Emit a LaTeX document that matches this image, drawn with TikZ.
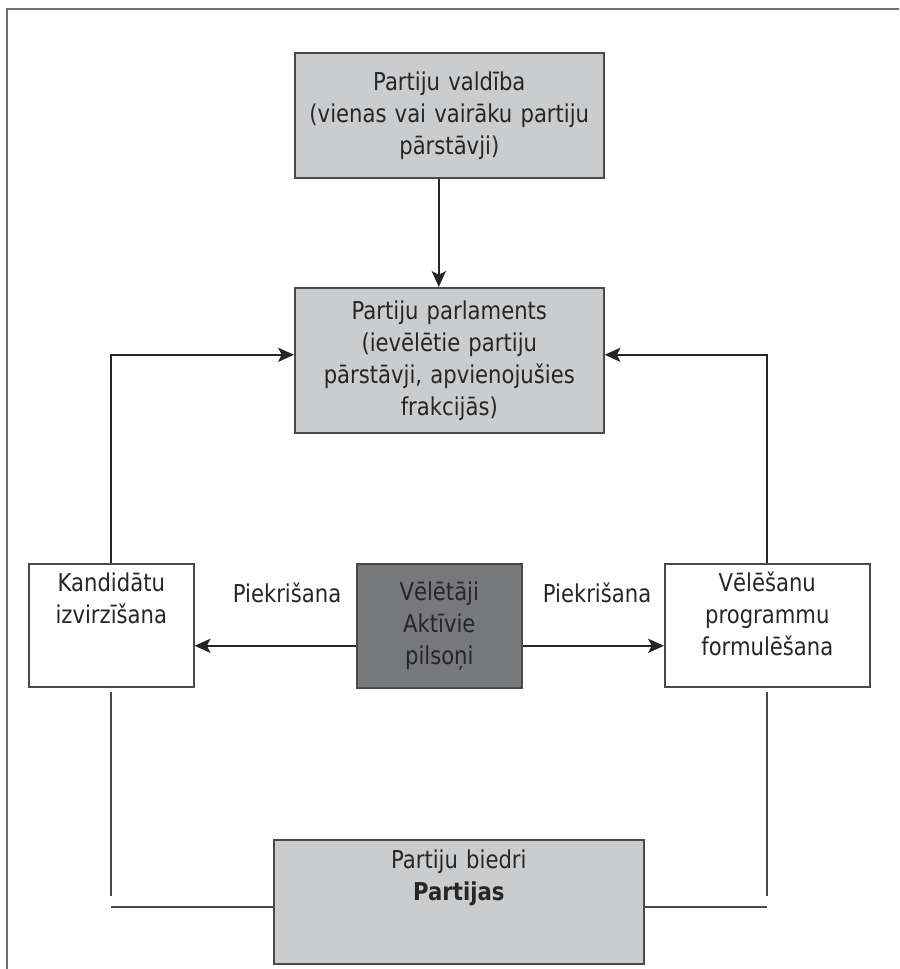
\documentclass[tikz,border=0pt]{standalone}
\usepackage{fontspec}
\setmainfont{DejaVu Sans}[FakeStretch=0.86]
\usepackage{xcolor}
\usetikzlibrary{arrows.meta,positioning,calc}
\definecolor{cInk}{HTML}{262626}
\definecolor{cEdge}{HTML}{4A4A4A}
\definecolor{cFill}{HTML}{CBCCCE}
\definecolor{cDark}{HTML}{77787B}
\definecolor{cFrame}{HTML}{6E6E6E}
\tikzset{
  pbox/.style={draw=cEdge,fill=#1,line width=0.9pt,align=center,text=cInk,anchor=north west,
    inner xsep=0pt,inner ysep=0.1cm,font=\fontsize{14}{18.2}\selectfont},
  pbox/.default=cFill,
  % mbox: text centred in the box
  mbox/.style={pbox=#1,minimum height=2.5cm},
  % tbox: fixed text height+depth = box of 2.46 cm with the text at the top
  tbox/.style={pbox=#1,text height=0.46cm,text depth=1.80cm},
  arr/.style={-{Stealth[length=9pt,width=8pt,inset=2pt]},line width=1.3pt,color=cInk},
  ln/.style={line width=1pt,color=cEdge},
  lbl/.style={font=\fontsize{14}{18.2}\selectfont,text=cInk,inner sep=1pt},
}
\begin{document}
\begin{tikzpicture}[x=1cm,y=1cm]
    \useasboundingbox (0,0) rectangle (17.98,-19.38);
    % frame (top and left only)
    \draw[cFrame,line width=1.1pt] (0.14,-19.38) -- (0.14,-0.18) -- (17.98,-0.18);
    % boxes
    \node[mbox,minimum width=6.18cm,text width=6.18cm] (valdiba) at (5.88,-1.04)
      {Partiju valdība\\(vienas vai vairāku partiju\\pārstāvji)};
    \node[mbox,minimum width=6.18cm,text width=6.18cm,minimum height=2.9cm] (parlaments) at (5.88,-5.74)
      {Partiju parlaments\\(ievēlētie partiju\\pārstāvji, apvienojušies\\frakcijās)};
    \node[tbox=white,text width=3.3cm] (kand) at (0.56,-11.26) {Kandidātu\\izvirzīšana};
    \node[mbox=cDark,text width=3.3cm,minimum height=2.48cm] (velet) at (7.12,-11.26) {Vēlētāji\\Aktīvie\\pilsoņi};
    \node[tbox=white,text width=4.1cm] (progr) at (13.28,-11.26) {Vēlēšanu\\programmu\\formulēšana};
    \node[tbox,text width=7.4cm,text height=0.48cm] (partijas) at (5.46,-16.78) {Partiju biedri\\\textbf{Partijas}};
    % labels
    \node[lbl] (piekr1) at (5.74,-11.86) {Piekrišana};
    \node[lbl] (piekr2) at (11.94,-11.86) {Piekrišana};
    % arrows
    \draw[arr] ([xshift=-0.21cm]valdiba.south) -- ([xshift=-0.21cm]parlaments.north);
    \draw[arr] (kand.north) |- ([yshift=0.11cm]parlaments.west);
    \draw[arr] (progr.north) |- ([yshift=0.11cm]parlaments.east);
    \draw[arr] ([yshift=-0.4cm]velet.west) -- ([yshift=-0.4cm]velet.west -| kand.east);
    \draw[arr] ([yshift=-0.4cm]velet.east) -- ([yshift=-0.4cm]velet.east -| progr.west);
    % lines down to the members
    \draw[ln] ([yshift=-0.08cm]kand.south) -- ++(0,-4.08);
    \draw[ln] ([yshift=-0.08cm]progr.south) -- ++(0,-4.08);
    \draw[ln] ([yshift=-0.1cm]partijas.west) -- ([yshift=-0.1cm]partijas.west -| kand.south);
    \draw[ln] ([yshift=-0.1cm]partijas.east) -- ([yshift=-0.1cm]partijas.east -| progr.south);
\end{tikzpicture}
\end{document}
